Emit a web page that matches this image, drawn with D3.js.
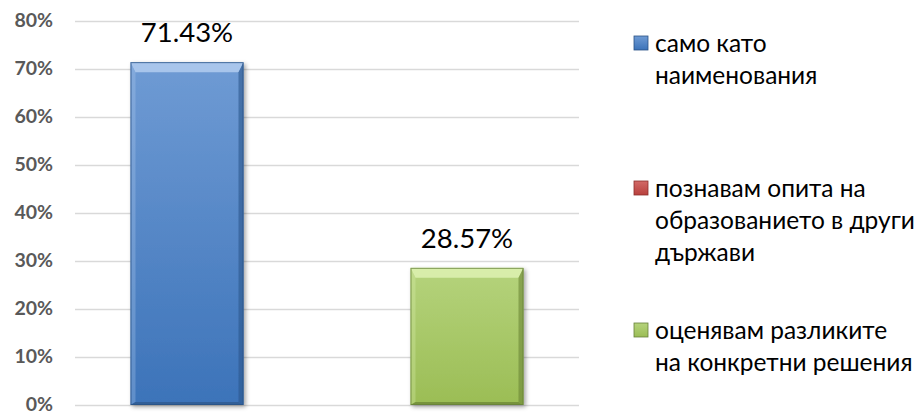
<!DOCTYPE html>
<html>
<head>
<meta charset="utf-8">
<script src="https://cdn.jsdelivr.net/npm/d3@7"></script>
<style>
  body { margin: 0; background: #fff; }
  text { font-family: Lato, "Open Sans", sans-serif; }
</style>
</head>
<body>
<svg id="chart" width="921" height="413"></svg>
<script>
// data
const series = ['само като наименования', 'познавам опита на образованието в други държави', 'оценявам разликите на конкретни решения']
const values = [71.43, 0, 28.57]
const legendLines = [['само като', 'наименования'], ['познавам опита на', 'образованието в други', 'държави'], ['оценявам разликите', 'на конкретни решения']]
const yTicks = [0, 10, 20, 30, 40, 50, 60, 70, 80]

// fill colours per series: light top, dark bottom, outline
const palette = [
  { top: '#6f9bd4', bottom: '#3c73b9', edge: '#2a5284', hi: '#b3cdef', lo: '#2c578c' },
  { top: '#d26a67', bottom: '#b8403d', edge: '#8c2f2c', hi: '#f0b3b1', lo: '#872c2a' },
  { top: '#b5d37c', bottom: '#9bbd55', edge: '#66803a', hi: '#def2b3', lo: '#6b8635' }
]

let svg = d3.select('#chart')
let defs = svg.append('defs')

defs.append('filter').attr('id', 'shadow')
    .attr('x', '-20%').attr('y', '-20%').attr('width', '150%').attr('height', '150%')
  .append('feDropShadow')
    .attr('dx', 2).attr('dy', 2).attr('stdDeviation', 2)
    .attr('flood-color', '#000').attr('flood-opacity', 0.35)

palette.forEach((c, i) => {
  let g = defs.append('linearGradient').attr('id', 'grad' + i)
      .attr('x1', 0).attr('y1', 0).attr('x2', 0).attr('y2', 1)
  g.append('stop').attr('offset', '0%').attr('stop-color', c.top)
  g.append('stop').attr('offset', '100%').attr('stop-color', c.bottom)
})

let yScale = d3.scaleLinear()
    .domain([0, 80])
    .range([405, 21])

let xScale = d3.scaleBand()
    .domain(series)
    .range([75, 579])
    .paddingInner(27 / 140)
    .paddingOuter(0.3965)

// gridlines + y labels
let yAxis = svg.append('g')
    .attr('transform', 'translate(75, 0)')
    .call(d3.axisLeft(yScale).tickValues(yTicks).tickFormat(d => d + '%').tickSize(-504).tickPadding(22))
yAxis.select('.domain').remove()
yAxis.selectAll('line').attr('stroke', '#d9d9d9').attr('stroke-width', 1.3)
yAxis.selectAll('text')
    .attr('fill', '#595959')
    .attr('dy', '0.3em')
    .style('font-family', 'Lato, sans-serif')
    .style('font-size', '19.5px')
    .style('font-weight', 'bold')

// bevelled bars
let bars = svg.append('g')
  .selectAll('g')
  .data(series.map((s, i) => ({ s, v: values[i], i })).filter(d => d.v > 0))
  .enter()
    .append('g')
    .attr('filter', 'url(#shadow)')

bars.each(function (d) {
  let g = d3.select(this)
  let x0 = xScale(d.s), x1 = x0 + xScale.bandwidth()
  let y0 = yScale(d.v), y1 = yScale(0)
  let c = palette[d.i]
  let t = 10, s = 5, b = 3 // bevel depth: top, sides, bottom
  g.append('rect')
    .attr('x', x0).attr('y', y0)
    .attr('width', x1 - x0).attr('height', y1 - y0)
    .style('fill', `url(#grad${d.i})`)
  // top bevel
  g.append('polygon')
    .attr('points', [[x0, y0], [x1, y0], [x1 - s, y0 + t], [x0 + s, y0 + t]].join(' '))
    .style('fill', c.hi).style('opacity', 0.85)
  // left bevel
  g.append('polygon')
    .attr('points', [[x0, y0], [x0 + s, y0 + t], [x0 + s, y1 - b], [x0, y1]].join(' '))
    .style('fill', c.hi).style('opacity', 0.3)
  // right bevel
  g.append('polygon')
    .attr('points', [[x1, y0], [x1 - s, y0 + t], [x1 - s, y1 - b], [x1, y1]].join(' '))
    .style('fill', c.lo).style('opacity', 0.6)
  // bottom bevel
  g.append('polygon')
    .attr('points', [[x0, y1], [x0 + s, y1 - b], [x1 - s, y1 - b], [x1, y1]].join(' '))
    .style('fill', c.lo).style('opacity', 0.75)
  g.append('rect')
    .attr('x', x0 + 0.5).attr('y', y0 + 0.5)
    .attr('width', x1 - x0 - 1).attr('height', y1 - y0 - 1)
    .style('fill', 'none').style('stroke', c.edge).style('stroke-opacity', 0.75)
})

// value labels
svg.append('g')
  .selectAll('text')
  .data(series.map((s, i) => ({ s, v: values[i] })).filter(d => d.v > 0))
  .enter()
    .append('text')
    .attr('x', d => xScale(d.s) + xScale.bandwidth() / 2)
    .attr('y', d => yScale(d.v) - 20)
    .attr('text-anchor', 'middle')
    .style('font-size', '27.5px')
    .style('fill', '#000')
    .text(d => d.v.toFixed(2) + '%')

// legend
let legendY = [43, 188, 330]
let legend = svg.append('g')
  .selectAll('g')
  .data(legendLines)
  .enter()
    .append('g')
    .attr('transform', (d, i) => `translate(634, ${legendY[i]})`)

legend.append('rect')
    .attr('x', 0).attr('y', -7)
    .attr('width', 14).attr('height', 14)
    .style('fill', (d, i) => `url(#grad${i})`)
    .style('stroke', (d, i) => palette[i].edge)
    .style('stroke-width', 0.8)

legend.append('text')
    .attr('x', 21)
    .attr('y', 0)
    .style('font-size', '24.5px')
    .style('fill', '#000')
  .selectAll('tspan')
  .data(d => d)
  .enter()
    .append('tspan')
    .attr('x', 21)
    .attr('dy', (d, i) => i == 0 ? '0.35em' : 32)
    .text(d => d)
</script>
</body>
</html>
